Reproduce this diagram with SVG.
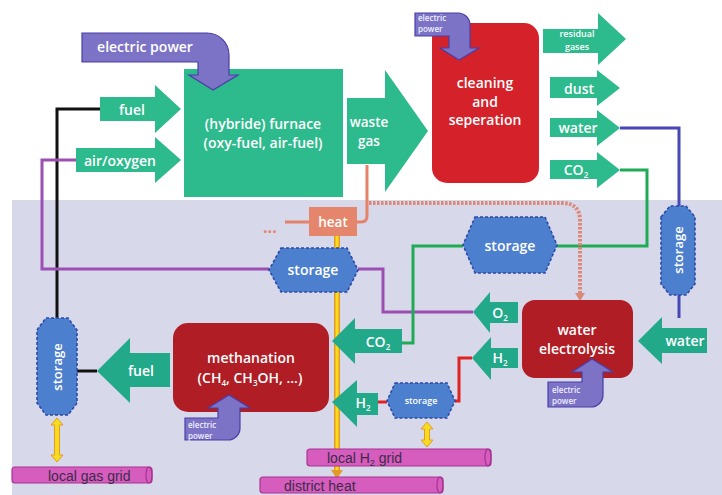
<svg xmlns="http://www.w3.org/2000/svg" width="722" height="495" viewBox="0 0 722 495">
<style>
.g{fill:#2dba8c}
.gd{fill:#22a98a}
.ep{fill:#7c73c6;stroke:#4a3ea6;stroke-width:1.2}
.st{fill:#4d7fcf;stroke:#2b4ba6;stroke-width:1.6;stroke-dasharray:3 2}
.pipe{fill:#d65cbd;stroke:#a63592;stroke-width:1.2}
.t{font-family:"Open Sans","DejaVu Sans",sans-serif;font-weight:600;fill:#fff;text-anchor:middle}
.ts{font-family:"Open Sans","DejaVu Sans",sans-serif;font-weight:600;fill:#eef;font-size:8px}
.tg{font-family:"Liberation Sans",Arial,sans-serif;fill:#3a2c48;font-size:14px}
.ln{fill:none;stroke-width:3}
.yl{fill:#f6dc1c;stroke:#e39a2a;stroke-width:1}
</style>
<rect x="0" y="0" width="722" height="495" fill="#ffffff"/>
<rect x="12" y="200" width="710" height="295" fill="#d8d8eb"/>

<g id="connectors">
  <path class="ln" d="M100,109 H57 V318" stroke="#111"/>
  <path class="ln" d="M77,371 H97" stroke="#111"/>
  <path class="ln" d="M76,160 H42 V269 H269" stroke="#9b4fb2"/>
  <path class="ln" d="M358,269 H383 V312 H473" stroke="#9b4fb2"/>
  <path class="ln" d="M620,128 H679 V206" stroke="#4747b8" stroke-width="2.5"/>
  <path class="ln" d="M679,295 V318" stroke="#4747b8" stroke-width="2.5"/>
  <path class="ln" d="M620,170 H647 V246 H557" stroke="#1fab55"/>
  <path class="ln" d="M463,246 H413 V343 H402" stroke="#1fab55"/>
  <path class="ln" d="M472,358 H459 V401 H455" stroke="#e02222"/>
  <path class="ln" d="M387,402 H378" stroke="#e02222"/>
  <path class="ln" d="M367,165 V216 Q367,222 361,222 H357" stroke="#e5836a"/>
  <path class="ln" d="M285,222 H309" stroke="#e5836a"/>
  <path d="M369,203 H562 Q580,203 580,221 V294" fill="none" stroke="#dc8878" stroke-width="4" stroke-dasharray="2.5 1.5"/>
  <path d="M575,293 L585,293 L580,301 Z" fill="#dc8878"/>
  <polygon class="yl" points="57,418 63,425 59.5,425 59.5,455 63,455 57,462 51,455 54.5,455 54.5,425 51,425"/>
  <polygon class="yl" points="427,422 433,429 429.5,429 429.5,440 433,440 427,447 421,440 424.5,440 424.5,429 421,429"/>
</g>

<g id="furnace">
  <rect x="184" y="69" width="159" height="128" class="g"/>
  <text class="t" x="263" y="129" font-size="14">(hybride) furnace</text>
  <text class="t" x="263" y="148" font-size="14">(oxy-fuel, air-fuel)</text>
</g>
<g id="electric-power-furnace">
  <path class="ep" d="M82,33 H207 A22,22 0 0 1 229,55 V75 H238 L213,90 L189,75 H198 V62 H82 Z"/>
  <text class="t" x="145" y="52" font-size="14">electric power</text>
</g>
<g id="fuel-in">
  <polygon class="g" points="100,97 155,97 155,85 181,109 155,133 155,121 100,121"/>
  <text class="t" x="132" y="115" font-size="14">fuel</text>
</g>
<g id="air-oxygen">
  <polygon class="g" points="76,148 155,148 155,137 181,160 155,183 155,172 76,172"/>
  <text class="t" x="120" y="166" font-size="14">air/oxygen</text>
</g>
<g id="waste-gas">
  <polygon class="g" points="347,98 385,98 385,70 428,131 385,192 385,164 347,164"/>
  <text class="t" x="369" y="127" font-size="13.5">waste</text>
  <text class="t" x="369" y="146" font-size="13.5">gas</text>
</g>
<g id="cleaning">
  <rect x="432" y="23" width="107" height="160" rx="15" fill="#d5222a"/>
  <text class="t" x="485" y="88" font-size="14">cleaning</text>
  <text class="t" x="485" y="107" font-size="14">and</text>
  <text class="t" x="485" y="125" font-size="14">seperation</text>
</g>
<g id="electric-power-cleaning">
  <path class="ep" d="M415,13 H458 A12,12 0 0 1 470,25 V48 H479 L459,60 L440,48 H449 V36 H415 Z"/>
  <text class="ts" x="418" y="21">electric</text>
  <text class="ts" x="418" y="32">power</text>
</g>
<g id="residual-gases">
  <polygon class="g" points="543,29 598,29 598,13 626,39 598,65 598,53 543,53"/>
  <text class="t" x="577" y="37" font-size="9">residual</text>
  <text class="t" x="577" y="50" font-size="9">gases</text>
</g>
<g id="dust">
  <polygon class="g" points="550,77 597,77 597,70 620,88 597,106 597,98 550,98"/>
  <text class="t" x="579" y="94" font-size="14">dust</text>
</g>
<g id="water-out">
  <polygon class="g" points="550,118 597,118 597,110 620,128 597,146 597,137 550,137"/>
  <text class="t" x="578" y="133" font-size="14">water</text>
</g>
<g id="co2-out">
  <polygon class="g" points="550,160 597,160 597,152 620,170 597,188 597,179 550,179"/>
  <text class="t" x="576" y="175" font-size="14">CO<tspan font-size="8" dy="3">2</tspan></text>
</g>
<g id="heat">
  <rect x="309" y="207" width="48" height="29" fill="#e5866c"/>
  <text class="t" x="333" y="227" font-size="13.5">heat</text>
  <text x="263" y="233" font-family="Open Sans,sans-serif" font-weight="700" font-size="16" fill="#e5836a">...</text>
</g>
<g id="heat-line">
  <line x1="337" y1="236" x2="337" y2="471" stroke="#e39a2a" stroke-width="6"/>
  <line x1="337" y1="236" x2="337" y2="471" stroke="#f6dc1c" stroke-width="3"/>
  <path d="M331,470 L343,470 L337,479 Z" fill="#e39a2a"/>
</g>
<g id="storage-mid">
  <polygon class="st" points="281,248 347,248 358,270 347,292 281,292 269,270"/>
  <text class="t" x="313" y="275" font-size="14">storage</text>
</g>
<g id="storage-co2">
  <polygon class="st" points="475,217 545,217 557,245 545,273 475,273 463,245"/>
  <text class="t" x="510" y="251" font-size="14">storage</text>
</g>
<g id="storage-water">
  <polygon class="st" points="661,217 670,206 686,206 695,217 695,284 686,295 670,295 661,284"/>
  <text class="t" font-size="13" transform="translate(683,250) rotate(-90)">storage</text>
</g>
<g id="water-in">
  <polygon class="gd" points="707,328 662,328 662,317 638,341 662,364 662,353 707,353"/>
  <text class="t" x="685" y="346" font-size="14">water</text>
</g>
<g id="electrolysis">
  <rect x="522" y="300" width="111" height="78" rx="13" fill="#b01d24"/>
  <text class="t" x="577" y="335" font-size="14">water</text>
  <text class="t" x="577" y="354" font-size="14">electrolysis</text>
</g>
<g id="electric-power-electrolysis">
  <path class="ep" d="M548,407 H591 A12,12 0 0 0 603,395 V372 H613 L592,359 L572,372 H582 V382 H548 Z"/>
  <text class="ts" x="552" y="393">electric</text>
  <text class="ts" x="552" y="404">power</text>
</g>
<g id="o2">
  <polygon class="gd" points="518,302 490,302 490,292 473,312 490,333 490,323 518,323"/>
  <text class="t" x="500" y="318" font-size="14">O<tspan font-size="8" dy="3">2</tspan></text>
</g>
<g id="h2-upper">
  <polygon class="gd" points="518,348 491,348 491,337 472,358 491,380 491,368 518,368"/>
  <text class="t" x="500" y="363" font-size="14">H<tspan font-size="8" dy="3">2</tspan></text>
</g>
<g id="storage-h2">
  <polygon class="st" points="395,383 447,383 455,401 447,418 395,418 387,401"/>
  <text class="t" x="421" y="404" font-size="9">storage</text>
</g>
<g id="co2-in">
  <polygon class="gd" points="402,329 355,329 355,318 332,341 355,364 355,353 402,353"/>
  <text class="t" x="378" y="347" font-size="14">CO<tspan font-size="8" dy="3">2</tspan></text>
</g>
<g id="h2-lower">
  <polygon class="gd" points="378,393 357,393 357,380 332,402 357,427 357,415 378,415"/>
  <text class="t" x="363" y="408" font-size="14">H<tspan font-size="8" dy="3">2</tspan></text>
</g>
<g id="methanation">
  <rect x="173" y="323" width="156" height="89" rx="15" fill="#b01d24"/>
  <text class="t" x="251" y="363" font-size="14">methanation</text>
  <text class="t" x="250" y="383" font-size="14">(CH<tspan font-size="8" dy="3">4</tspan><tspan dy="-3">, CH</tspan><tspan font-size="8" dy="3">3</tspan><tspan dy="-3">OH, ...)</tspan></text>
</g>
<g id="electric-power-methanation">
  <path class="ep" d="M185,440 H228 A12,12 0 0 0 240,428 V408 H250 L229,395 L208,408 H218 V418 H185 Z"/>
  <text class="ts" x="188" y="428">electric</text>
  <text class="ts" x="188" y="439">power</text>
</g>
<g id="fuel-out">
  <polygon class="gd" points="170,353 130,353 130,338 97,371 130,403 130,387 170,387"/>
  <text class="t" x="141" y="376" font-size="14">fuel</text>
</g>
<g id="storage-fuel">
  <polygon class="st" points="37,330 46,318 68,318 77,330 77,403 68,415 46,415 37,403"/>
  <text class="t" font-size="13" transform="translate(62,367) rotate(-90)">storage</text>
</g>
<g id="local-gas-grid">
  <rect class="pipe" x="12" y="467" width="140" height="16" rx="3"/>
  <ellipse cx="149" cy="475" rx="3" ry="8" fill="none" stroke="#a63592" stroke-width="1.2"/>
  <text class="tg" x="48" y="481">local gas grid</text>
</g>
<g id="local-h2-grid">
  <rect class="pipe" x="307" y="449" width="184" height="17" rx="3"/>
  <ellipse cx="488" cy="457.5" rx="3" ry="8.5" fill="none" stroke="#a63592" stroke-width="1.2"/>
  <text class="tg" x="327" y="463">local H<tspan font-size="9" dy="3">2</tspan><tspan dy="-3"> grid</tspan></text>
</g>
<g id="district-heat">
  <rect class="pipe" x="260" y="477" width="183" height="16" rx="3"/>
  <ellipse cx="440" cy="485" rx="3" ry="8" fill="none" stroke="#a63592" stroke-width="1.2"/>
  <text class="tg" x="284" y="491">district heat</text>
</g>
</svg>
